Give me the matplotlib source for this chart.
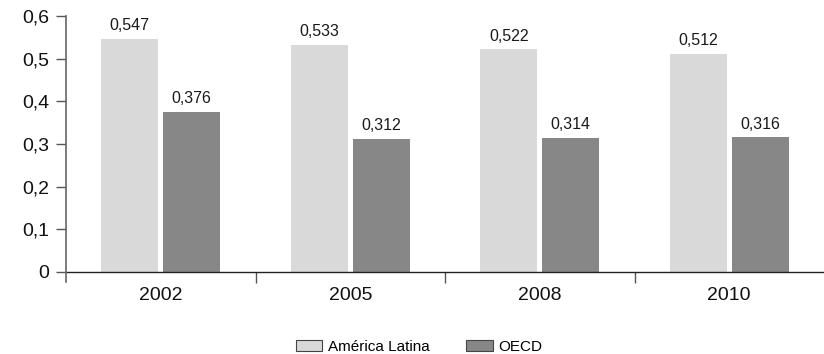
import matplotlib
matplotlib.use("Agg")
import matplotlib.pyplot as plt
import numpy as np
from matplotlib.patches import Patch

plt.rcParams['font.family'] = ['Liberation Sans', 'DejaVu Sans']

years = ["2002", "2005", "2008", "2010"]
america_latina = [0.547, 0.533, 0.522, 0.512]
oecd = [0.376, 0.312, 0.314, 0.316]
series_names = ["América Latina", "OECD"]
yticks = [0, 0.1, 0.2, 0.3, 0.4, 0.5, 0.6]
ytick_labels = ["0", "0,1", "0,2", "0,3", "0,4", "0,5", "0,6"]

light = "#d9d9d9"
dark = "#878787"

fig = plt.figure(figsize=(8.24, 3.54), dpi=100)
ax = fig.add_axes([66/824, 82/354, 758/824, 256/354])

x = np.arange(len(years))
w = 0.30
off = 0.163
b1 = ax.bar(x - off, america_latina, w, color=light)
b2 = ax.bar(x + off, oecd, w, color=dark)

def fmt(v):
    return f"{v:.3f}".replace(".", ",")

for bars, vals in ((b1, america_latina), (b2, oecd)):
    for r, v in zip(bars, vals):
        ax.annotate(fmt(v), (r.get_x() + r.get_width()/2, v), xytext=(0, 4),
                    textcoords="offset points", ha="center", va="bottom",
                    fontsize=11.5, color="#1a1a1a")

ax.set_xlim(-0.5, 3.5)
ax.set_ylim(0, 0.6)
ax.set_yticks(yticks)
ax.set_yticklabels(ytick_labels, fontsize=14, color="#111111")
ax.set_xticks(x)
ax.set_xticklabels(years, fontsize=14, color="#111111")
ax.tick_params(axis="x", length=0, pad=11)
ax.tick_params(axis="y", length=7, width=1, color="#555555", pad=5)
ax.set_xticks([0.5, 1.5, 2.5], minor=True)
ax.tick_params(axis="x", which="minor", length=8, width=1, color="#555555")

for s in ("top", "right"):
    ax.spines[s].set_visible(False)
ax.spines["left"].set_color("#666666")
ax.spines["left"].set_linewidth(1.2)
ax.spines["left"].set_bounds(-0.024, 0.6)
ax.spines["bottom"].set_color("#222222")
ax.spines["bottom"].set_linewidth(1.0)
ax.spines["left"].set_zorder(3)

handles = [Patch(facecolor=light, edgecolor="#444444", linewidth=0.8),
           Patch(facecolor=dark, edgecolor="#444444", linewidth=0.8)]
fig.legend(handles, series_names, loc="center", bbox_to_anchor=(419/824, 1 - 347/354),
           ncol=2, frameon=False, fontsize=11, handlelength=1.75, handleheight=0.72,
           columnspacing=2.4, handletextpad=0.35)

fig.savefig("out.png", dpi=100)
